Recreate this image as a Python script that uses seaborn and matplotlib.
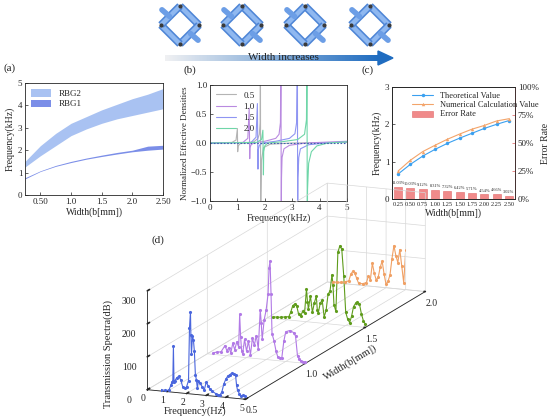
import numpy as np
import pandas as pd
import matplotlib
matplotlib.use("Agg")
from matplotlib import pyplot as plt
from matplotlib.patches import Polygon
import seaborn as sns

# ---- (a) band structure ----
width_a = [0.25, 0.5, 0.75, 1.0, 1.25, 1.5, 1.75, 2.0, 2.25, 2.5]
rbg2_low = [1.25, 1.75, 2.2, 2.65, 2.95, 3.2, 3.4, 3.55, 3.7, 3.85]
rbg2_high = [1.5, 2.2, 2.75, 3.2, 3.5, 3.8, 4.05, 4.3, 4.5, 4.75]
rbg1_low = [0.72, 1.05, 1.28, 1.45, 1.6, 1.72, 1.83, 1.93, 2.0, 2.05]
rbg1_high = [0.77, 1.08, 1.32, 1.5, 1.65, 1.78, 1.9, 2.0, 2.18, 2.22]

# ---- (b) normalized effective densities ----
freq_b05 = [0, 0.8, 0.95, 1.0, 1.01, 1.03, 1.1, 1.3, 1.6, 1.75, 1.8, 1.83, 1.84, 1.85, 1.86, 1.88, 1.95, 2.2, 3.0, 5.0]
dens_b05 = [0, 0.01, 0.05, 0.25, -0.15, -0.05, -0.01, 0, 0.02, 0.08, 0.15, 0.35, 1.5, -1.5, -0.9, -0.3, -0.08, -0.02, 0, 0.01]
freq_b10 = [0, 1.2, 1.38, 1.43, 1.45, 1.46, 1.5, 1.6, 2.0, 2.4, 2.52, 2.57, 2.59, 2.6, 2.61, 2.63, 2.7, 2.9, 3.5, 5.0]
dens_b10 = [0, 0.01, 0.08, 0.6, -0.27, -0.08, -0.03, 0, 0.03, 0.08, 0.15, 0.35, 1.5, -1.5, -0.6, -0.25, -0.1, -0.04, 0, 0.03]
freq_b15 = [0, 1.5, 1.68, 1.73, 1.75, 1.76, 1.8, 1.9, 2.4, 2.9, 3.1, 3.16, 3.19, 3.2, 3.21, 3.24, 3.3, 3.6, 4.2, 5.0]
dens_b15 = [0, 0.01, 0.1, 0.68, -0.45, -0.12, -0.04, 0, 0.03, 0.08, 0.16, 0.35, 1.5, -1.5, -0.6, -0.25, -0.1, -0.03, 0, 0.02]
freq_b20 = [0, 1.7, 1.88, 1.93, 1.95, 1.96, 2.0, 2.1, 2.6, 3.2, 3.45, 3.52, 3.54, 3.55, 3.56, 3.6, 3.7, 3.9, 4.3, 5.0]
dens_b20 = [0, 0.01, 0.06, 0.22, -0.55, -0.15, -0.05, 0, 0.02, 0.06, 0.15, 0.4, 1.5, -1.5, -0.8, -0.35, -0.15, -0.05, 0, 0.02]

# ---- (c) theory vs numerical ----
width_c = ["0.25", "0.50", "0.75", "1.00", "1.25", "1.50", "1.75", "2.00", "2.25", "2.50"]
theory = [0.67, 0.93, 1.15, 1.33, 1.49, 1.63, 1.76, 1.89, 2.0, 2.1]
numerical = [0.75, 1.04, 1.27, 1.44, 1.60, 1.74, 1.87, 1.97, 2.09, 2.15]
error_rate = [11.03, 10.03, 9.12, 8.31, 7.32, 6.42, 5.71, 4.54, 4.66, 3.02]

# ---- (d) transmission spectra ----
freq_d05 = [0.3, 0.5, 0.7, 0.9, 1.1, 1.2, 1.25, 1.3, 1.33, 1.36, 1.4, 1.5, 1.6, 1.7, 1.8, 1.9, 2.0, 2.1, 2.15, 2.2,
            2.22, 2.25, 2.3, 2.35, 2.4, 2.45, 2.5, 2.55, 2.6, 2.7, 2.8, 2.9, 3.0, 3.1, 3.2, 3.3, 3.5, 3.6, 3.7, 3.8,
            3.9, 4.0, 4.1, 4.2, 4.3, 4.4, 4.5, 4.55, 4.6, 4.7, 4.8, 4.9, 5.0]
tl_d05 = [5, 3, 4, 3, 5, 20, 30, 35, 140, 30, 35, 45, 50, 40, 20, 15, 20, 40, 200, 250,
          180, 120, 175, 165, 130, 60, 45, 20, 40, 35, 25, 15, 40, 30, 20, 15, 8, 5, 5, 15,
          40, 55, 65, 70, 75, 72, 70, 40, 25, 15, 8, 12, 10]
freq_d10 = [0.3, 0.5, 0.7, 0.9, 1.0, 1.1, 1.2, 1.3, 1.4, 1.5, 1.6, 1.65, 1.7, 1.75, 1.8, 1.9, 2.0, 2.1, 2.2, 2.3,
            2.4, 2.5, 2.6, 2.7, 2.75, 2.8, 2.9, 3.0, 3.1, 3.15, 3.2, 3.25, 3.3, 3.4, 3.5, 3.6, 3.7, 3.8, 3.9,
            4.0, 4.2, 4.4, 4.5, 4.6, 4.7, 4.8, 4.9, 5.0]
tl_d10 = [5, 8, 10, 30, 15, 25, 10, 40, 20, 45, 30, 130, 60, 20, 10, 55, 20, 50, 10, 60,
          40, 70, 30, 150, 110, 60, 120, 150, 200, 280, 300, 200, 80, 60, 30, 10, 10, 10, 60,
          90, 95, 90, 80, 20, 10, 5, 5, 3]
freq_d15 = [0.3, 0.5, 0.7, 0.9, 1.1, 1.2, 1.3, 1.4, 1.5, 1.6, 1.7, 1.8, 1.9, 2.0, 2.05, 2.1, 2.2, 2.3, 2.4, 2.5,
            2.55, 2.6, 2.7, 2.8, 2.9, 3.0, 3.1, 3.2, 3.3, 3.35, 3.4, 3.5, 3.6, 3.7, 3.8, 3.9, 4.0, 4.1, 4.2,
            4.3, 4.4, 4.5, 4.6, 4.7, 4.8, 4.9, 5.0]
tl_d15 = [5, 5, 6, 8, 10, 25, 45, 50, 45, 20, 15, 30, 25, 100, 60, 40, 80, 30, 60, 80,
          40, 30, 60, 70, 20, 40, 90, 100, 150, 120, 60, 40, 220, 240, 230, 150, 40, 20, 10,
          30, 60, 70, 75, 70, 40, 20, 10]
freq_d20 = [0.3, 0.5, 0.7, 0.9, 1.1, 1.2, 1.3, 1.4, 1.5, 1.6, 1.8, 2.0, 2.1, 2.2, 2.3, 2.4, 2.5, 2.6, 2.7, 2.8,
            2.9, 3.0, 3.1, 3.2, 3.3, 3.4, 3.5, 3.6, 3.7, 3.8, 3.9, 4.0, 4.1, 4.2, 4.3, 4.4, 4.5, 4.6, 4.7,
            4.8, 4.9, 5.0]
tl_d20 = [2, 2, 3, 5, 10, 30, 40, 35, 20, 5, 5, 10, 30, 20, 70, 40, 20, 30, 60, 80,
          40, 10, 20, 40, 90, 130, 100, 80, 120, 70, 20, 120, 250, 200, 220, 150, 60, 20, 50,
          80, 40, 30]

plt.close("all")
sns.set_theme(style="ticks")
plt.rcParams["font.family"] = ["Liberation Serif", "DejaVu Serif"]
plt.rcParams["xtick.direction"] = "in"
plt.rcParams["ytick.direction"] = "in"
plt.rcParams["axes.linewidth"] = 0.6

fig = plt.figure(figsize=(5.5, 4.18), dpi=100)
W, H = 550.0, 418.0


def box(x0, y0, x1, y1):
    # pixel box (top-left origin) -> figure fraction
    return [x0 / W, 1 - y1 / H, (x1 - x0) / W, (y1 - y0) / H]


# ---------- top schematic ----------
ax_top = fig.add_axes([0, 0, 1, 1], zorder=-1)
ax_top.set_xlim(0, W)
ax_top.set_ylim(H, 0)
ax_top.axis("off")
for cx in [180, 242, 305, 370]:
    cy, r = 25, 19
    pts = [(cx, cy - r), (cx + r, cy), (cx, cy + r), (cx - r, cy)]
    for i in range(4):
        p, q = pts[i], pts[(i + 1) % 4]
        ax_top.plot([p[0], q[0]], [p[1], q[1]], color="#4f86d6", lw=5.5, solid_capstyle="butt")
        ax_top.plot([p[0], q[0]], [p[1], q[1]], color="#8fb8f0", lw=3.2, solid_capstyle="butt")
    ax_top.plot([cx + r * 0.55, cx + r * 0.95], [cy + r * 0.45, cy + r * 0.8], color="#6c9ee6", lw=4)
    ax_top.plot([cx - r * 0.55, cx - r * 0.95], [cy - r * 0.45, cy - r * 0.8], color="#6c9ee6", lw=4)
    for (px, py) in pts:
        ax_top.plot(px, py, "o", ms=2, color="#3a3a3a")
grad = np.linspace(0, 1, 200).reshape(1, -1)
ax_top.imshow(grad, extent=[165, 380, 61, 55], cmap=sns.light_palette("#1f6cc0", as_cmap=True),
              aspect="auto", zorder=1)
ax_top.add_patch(Polygon([(378, 51), (393, 58), (378, 65)], closed=True, color="#1f6cc0", zorder=2))
ax_top.text(283, 58, "Width increases", ha="center", va="center", fontsize=8, zorder=3)

# panel labels
for lbl, (px, py) in {"(a)": (10, 68), "(b)": (190, 70), "(c)": (368, 70), "(d)": (158, 240)}.items():
    ax_top.text(px, py, lbl, fontsize=8, ha="center", va="center")
# x label of the 3D panel, kept horizontal like the original
ax_top.text(195, 411, "Frequency(Hz)", fontsize=7.5, ha="center", va="center")

# ---------- (a) ----------
ax_a = fig.add_axes(box(25, 83, 163, 195))
ax_a.fill_between(width_a, rbg2_low, rbg2_high, color="#a9c2f2", lw=0, label="RBG2")
ax_a.fill_between(width_a, rbg1_low, rbg1_high, color="#7b8ee8", lw=0, label="RBG1")
ax_a.set_xlim(0.25, 2.5)
ax_a.set_ylim(0, 5)
ax_a.set_xticks([0.5, 1.0, 1.5, 2.0, 2.5])
ax_a.set_xticklabels(["0.50", "1.0", "1.5", "2.0", "2.50"])
ax_a.set_yticks([0, 1, 2, 3, 4, 5])
ax_a.tick_params(labelsize=6.5, length=2, width=0.5, pad=2)
ax_a.set_xlabel("Width(b[mm])", fontsize=7, labelpad=1)
ax_a.set_ylabel("Frequency(kHz)", fontsize=7, labelpad=2)
ax_a.legend(loc="upper left", frameon=False, fontsize=6.5, handlelength=2.2, handleheight=0.9,
            borderaxespad=0.3, labelspacing=0.15)

# ---------- (b) ----------
ax_b = fig.add_axes(box(210, 85, 347, 201))
curves_b = [("0.5", freq_b05, dens_b05, "#b4b4b4"), ("1.0", freq_b10, dens_b10, "#b98ae0"),
            ("1.5", freq_b15, dens_b15, "#8f95f2"), ("2.0", freq_b20, dens_b20, "#6fd6a8")]
for lbl, fx, dy, col in curves_b:
    sns.lineplot(x=fx, y=dy, sort=False, color=col, lw=0.8, label=lbl, ax=ax_b)
ax_b.axhline(0, color="#3f5fb0", lw=0.8, ls=(0, (1.5, 1.5)))
ax_b.set_xlim(0, 5)
ax_b.set_ylim(-1, 1)
ax_b.set_yticks([-1, -0.5, 0, 0.5, 1])
ax_b.set_yticklabels(["\u22121.0", "\u22120.5", "0.0", "0.5", "1.0"])
ax_b.tick_params(labelsize=6.5, length=2, width=0.5, pad=2)
ax_b.set_xlabel("Frequency(kHz)", fontsize=7, labelpad=1)
ax_b.set_ylabel("Normalized Effective Densities", fontsize=6.5, labelpad=1)
ax_b.legend(loc="upper left", frameon=False, fontsize=6.5, handlelength=2.2,
            borderaxespad=0.3, labelspacing=0.3)

# ---------- (c) ----------
ax_c = fig.add_axes(box(392, 87, 515, 199))
ax_r = ax_c.twinx()
xpos = np.arange(len(width_c))
ax_r.bar(xpos, error_rate, width=0.65, color="#f08a8a", edgecolor="#e26a6a", lw=0.4, label="Error Rate")
for xp, ev in zip(xpos, error_rate):
    ax_r.text(xp, ev + 1.2, f"{ev:.2f}%", ha="center", va="bottom", fontsize=3.2)
sns.lineplot(x=xpos, y=theory, color="#3aa0f0", marker="o", ms=2.5, lw=0.8, mec="none",
             label="Theoretical Value", ax=ax_c, legend=False)
sns.lineplot(x=xpos, y=numerical, color="#f3a46a", marker="^", ms=2.5, lw=0.8, mec="none",
             label="Numerical Calculation Value", ax=ax_c, legend=False)
ax_c.set_zorder(ax_r.get_zorder() + 1)
ax_c.patch.set_visible(False)
ax_c.set_ylim(0, 3)
ax_c.set_yticks([0, 1, 2, 3])
ax_c.set_xlim(-0.5, len(width_c) - 0.5)
ax_c.set_xticks(xpos)
ax_c.set_xticklabels(width_c, fontsize=4.6)
ax_c.tick_params(axis="y", labelsize=6.5, length=2, width=0.5, pad=2)
ax_c.tick_params(axis="x", length=0, pad=2)
ax_c.set_xlabel("Width(b[mm])", fontsize=7, labelpad=1)
ax_c.set_ylabel("Frequency(kHz)", fontsize=7, labelpad=2)
ax_r.set_ylim(0, 100)
ax_r.set_yticks([0, 25, 50, 75, 100])
ax_r.set_yticklabels(["0%", "25%", "50%", "75%", "100%"])
ax_r.tick_params(axis="y", labelsize=6.5, length=2, width=0.5, pad=2, color="#e05a5a")
ax_r.spines["right"].set_color("#e05a5a")
ax_r.set_ylabel("Error Rate", fontsize=7, labelpad=2)
h1, l1 = ax_c.get_legend_handles_labels()
h2, l2 = ax_r.get_legend_handles_labels()
ax_c.legend(h1 + h2, l1 + l2, loc="upper left", frameon=False, fontsize=6, handlelength=2.6,
            borderaxespad=0.2, labelspacing=0.15, bbox_to_anchor=(0.12, 1.0))

# ---------- (d) ----------
ax_d = fig.add_axes(box(53, 172, 513, 417), projection="3d")
ax_d.set_facecolor("none")
ax_d.set_proj_type("ortho")
curves_d = [(0.5, freq_d05, tl_d05, "#4a66dd"), (1.0, freq_d10, tl_d10, "#b27ae6"),
            (1.5, freq_d15, tl_d15, "#5f9c1c"), (2.0, freq_d20, tl_d20, "#f0a064")]
for wv, fx, tz, col in curves_d:
    ax_d.plot(fx, np.full(len(fx), wv), tz, color=col, lw=0.8, marker=".", ms=2.5)
ax_d.set_xlim(0, 5)
ax_d.set_ylim(0.5, 2.0)
ax_d.set_zlim(0, 300)
ax_d.set_xticks([0, 1, 2, 3, 4, 5])
ax_d.set_yticks([0.5, 1.0, 1.5, 2.0])
ax_d.set_zticks([0, 100, 200, 300])
ax_d.set_box_aspect((0.797, 3.62, 0.768), zoom=1.99)
ax_d.view_init(elev=14, azim=-68)
for axis in (ax_d.xaxis, ax_d.yaxis, ax_d.zaxis):
    axis.set_pane_color((1, 1, 1, 0))
    axis.pane.set_edgecolor("#888888")
    axis._axinfo["grid"]["color"] = "#d8d8d8"
    axis._axinfo["grid"]["linewidth"] = 0.5
    axis._axinfo["tick"]["inward_factor"] = 0.0
    axis._axinfo["tick"]["outward_factor"] = 0.15
    axis._axinfo["axisline"]["color"] = "#333333"
ax_d.zaxis.set_ticks_position("lower")
ax_d.zaxis.set_label_position("lower")
ax_d.tick_params(labelsize=7)
ax_d.tick_params(axis="x", pad=-6)
ax_d.tick_params(axis="z", pad=-2)
ax_d.tick_params(axis="y", pad=-2)
ax_d.set_xlabel("")
ax_d.set_ylabel("Width(b[mm])", fontsize=7.5, labelpad=-7)
ax_d.set_zlabel("Transmission Spectra(dB)", fontsize=7.5, labelpad=-8)

plt.savefig("out.png", dpi=100)
